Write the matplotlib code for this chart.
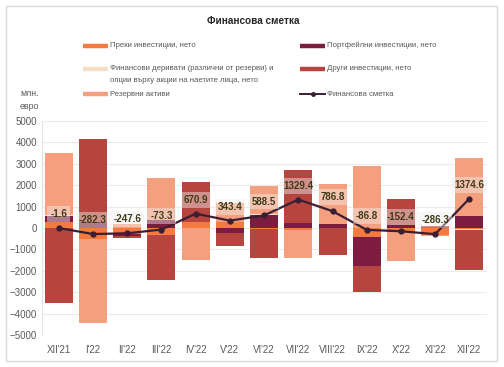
import numpy as np
import matplotlib
matplotlib.use("Agg")
import matplotlib.pyplot as plt
from matplotlib.patches import Rectangle
from matplotlib.lines import Line2D

plt.rcParams['font.family'] = ['Liberation Sans', 'DejaVu Sans']

categories = ["XII'21", "I'22", "II'22", "III'22", "IV'22", "V'22", "VI'22",
              "VII'22", "VIII'22", "IX'22", "X'22", "XI'22", "XII'22"]
direct      = [280, -500, -260, -340, 270, 270, -30, -100, -20, -420, -200, -330, -60]
portfolio   = [300, 300, -120, 380, 30, -230, 620, 230, 190, -1340, 150, 70, 540]
derivatives = [50, 0, 0, 0, 0, 0, 50, 0, 0, 0, 0, 0, -40]
other       = [-3500, 3850, -80, -2100, 1870, -630, -1370, 2490, -1230, -1240, 1210, 20, -1850]
reserves    = [2870, -3930, 190, 1950, -1480, 900, 1300, -1300, 1870, 2910, -1320, -50, 2740]
net         = [-1.6, -282.3, -247.6, -73.3, 670.9, 343.4, 588.5, 1329.4, 786.8,
               -86.8, -152.4, -286.3, 1374.6]

series_names = ["Преки инвестиции, нето", "Портфейлни инвестиции, нето",
                "Финансови деривати (различни от резерви) и\nопции върху акции на наетите лица, нето",
                "Други инвестиции, нето", "Резервни активи"]
line_name = "Финансова сметка"
colors = ["#F57A3F", "#7C1C3E", "#F7DFC7", "#B6453F", "#F4A07F"]
line_color = "#3B1E33"

W, H = 504, 367
fig = plt.figure(figsize=(W / 100, H / 100), dpi=100)
ax = fig.add_axes([41.7 / W, 1 - 335 / H, (486.5 - 41.7) / W, (335 - 121) / H])

x = np.arange(len(categories))
pos_bottom = np.zeros(len(x))
neg_bottom = np.zeros(len(x))
for vals, c in zip([direct, portfolio, derivatives, other, reserves], colors):
    v = np.array(vals, dtype=float)
    b = np.where(v >= 0, pos_bottom, neg_bottom)
    ax.bar(x, v, width=0.82, bottom=b, color=c, zorder=2, linewidth=0)
    pos_bottom += np.where(v >= 0, v, 0)
    neg_bottom += np.where(v < 0, v, 0)

ax.plot(x, net, color=line_color, lw=1.6, marker='o', ms=3.5, zorder=4)
for xi, v in zip(x, net):
    ax.annotate(f"{v:.1f}", (xi, v), xytext=(0, 10), textcoords='offset points',
                ha='center', va='center', fontsize=7, fontweight='bold',
                color="#3E3A14", zorder=5,
                bbox=dict(boxstyle='square,pad=0.3', fc='#EEEEEE', ec='none', alpha=0.45))

ax.set_xlim(-0.5, len(categories) - 0.5)
ax.set_ylim(-5000, 5000)
ax.set_yticks(np.arange(-5000, 5001, 1000))
ax.set_xticks(x)
ax.set_xticklabels(categories)
ax.tick_params(axis='both', length=0, labelsize=7, colors="#595959")
ax.tick_params(axis='x', pad=7)
ax.grid(axis='y', color="#EBEBEB", lw=0.8, zorder=0)
ax.set_axisbelow(True)
for s in ['top', 'right', 'bottom']:
    ax.spines[s].set_visible(False)
ax.spines['left'].set_color("#E3E3E3")

# figure border
fig.patches.append(Rectangle((6 / W, 1 - 361 / H), (497 - 6) / W, (361 - 6) / H,
                             transform=fig.transFigure, fill=False, ec="#D9D9D9", lw=1))

fig.text(253 / W, 1 - 21 / H, "Финансова сметка", ha='center', va='center',
         fontsize=7.2, fontweight='bold', color="#262626")

LFS = 5.6
def leg_patch(xp, yp, color, label):
    fig.add_artist(Line2D([xp / W, (xp + 25) / W], [1 - yp / H, 1 - yp / H],
                          transform=fig.transFigure, color=color, lw=3.2,
                          solid_capstyle='butt'))
    fig.text((xp + 27) / W, 1 - yp / H, label, ha='left', va='center',
             fontsize=LFS, color="#595959")

leg_patch(83, 45.5, colors[0], series_names[0])
leg_patch(83, 69, colors[2], series_names[2].split("\n")[0])
fig.text(110 / W, 1 - 81 / H, series_names[2].split("\n")[1], ha='left', va='center',
         fontsize=LFS, color="#595959")
leg_patch(83, 94, colors[4], series_names[4])
leg_patch(300, 45.5, colors[1], series_names[1])
leg_patch(300, 69, colors[3], series_names[3])
fig.add_artist(Line2D([300 / W, 312.5 / W, 325 / W], [1 - 94 / H] * 3,
                      transform=fig.transFigure, color=line_color, lw=1.4,
                      marker='o', markevery=[1], ms=2.5))
fig.text(327 / W, 1 - 94 / H, line_name, ha='left', va='center', fontsize=LFS, color="#595959")

fig.text(20 / W, 1 - 100 / H, "млн.\nевро", ha='left', va='center', fontsize=6.3,
         color="#595959", linespacing=1.5)

fig.savefig("out.png", dpi=100)
